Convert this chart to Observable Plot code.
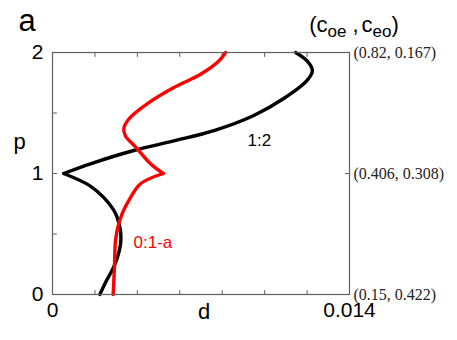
<!DOCTYPE html>
<html><head><meta charset="utf-8">
<script src="https://cdn.jsdelivr.net/npm/d3@7"></script>
<script src="https://cdn.jsdelivr.net/npm/@observablehq/plot@0.6"></script>
<style>body{margin:0;background:#fff}</style>
</head><body><div id="chart"></div>
<script>
// ---- data ----
const xTicks = [0, 0.002, 0.004, 0.006, 0.008, 0.010, 0.012, 0.014];
const xTickLabels = [0, 0.014];
const yTicks = [0, 0.5, 1, 1.5, 2];
const yTickLabels = [0, 1, 2];
const rightTicks = [0, 1, 2];
const rightLabels = ["(0.15, 0.422)", "(0.406, 0.308)", "(0.82, 0.167)"];

// curve "1:2" (black), lower branch p 0..1 and upper branch p 1..2
const blackLowerP = [0, 0.1, 0.2, 0.3, 0.42, 0.5, 0.56, 0.67, 0.8, 0.9, 1.0];
const blackLowerD = [0.00223, 0.0025, 0.00281, 0.00305, 0.00321, 0.00322, 0.00317, 0.00297, 0.00242, 0.00175, 0.00053];
const blackUpperP = [1.0, 1.08, 1.19, 1.27, 1.355, 1.48, 1.62, 1.77, 1.85, 1.93, 2.0];
const blackUpperD = [0.00053, 0.00179, 0.00383, 0.00572, 0.00761, 0.00949, 0.0109, 0.0120, 0.01225, 0.0120, 0.01146];

// curve "0:1-a" (red)
const redLowerP = [0, 0.225, 0.446, 0.556, 0.667, 0.777, 0.915, 1.0];
const redLowerD = [0.00286, 0.00292, 0.00297, 0.00308, 0.00328, 0.0036, 0.00415, 0.00522];
const redUpperP = [1.0, 1.08, 1.22, 1.31, 1.37, 1.45, 1.575, 1.71, 1.82, 1.93, 2.0];
const redUpperD = [0.00522, 0.00462, 0.00391, 0.00344, 0.00336, 0.0036, 0.00446, 0.00572, 0.00698, 0.00784, 0.00816];

const curveLabels = [
  {name: "1:2", d: 0.00919, p: 1.273, color: "#000"},
  {name: "0:1-a", d: 0.00382, p: 0.43, color: "#ff0000"}
];
const xLabel = "d";
const yLabel = "p";
const panelLabel = "a";

// ---- build tables ----
function rowsOf(ps, ds, branch) { return ps.map((p, i) => ({p, d: ds[i], branch})); }
const blackRows = [...rowsOf(blackLowerP, blackLowerD, "lo"), ...rowsOf(blackUpperP, blackUpperD, "hi")];
const redRows = [...rowsOf(redLowerP, redLowerD, "lo"), ...rowsOf(redUpperP, redUpperD, "hi")];

const tickShape = {draw(ctx, l) { ctx.moveTo(0, 0); ctx.lineTo(0, -l); }};
const frameColor = "#5f5f5f";
const tickOpts = {length: 4, anchor: "start", shape: tickShape, stroke: frameColor, strokeWidth: 1};

const chart = Plot.plot({
  width: 457, height: 340,
  marginLeft: 52, marginRight: 108, marginTop: 52, marginBottom: 46,
  x: {domain: [0, 0.014]},
  y: {domain: [0, 2]},
  style: {fontFamily: "'Liberation Sans', Arial, sans-serif", background: "white", color: "#000"},
  marks: [
    Plot.vector(xTicks, {x: d => d, frameAnchor: "bottom", rotate: 0, ...tickOpts}),
    Plot.vector(xTicks, {x: d => d, frameAnchor: "top", rotate: 180, ...tickOpts}),
    Plot.vector(yTicks, {y: d => d, frameAnchor: "left", rotate: 90, ...tickOpts}),
    Plot.vector(rightTicks, {y: d => d, frameAnchor: "right", rotate: -90, ...tickOpts}),
    Plot.axisX(xTickLabels, {tickSize: 0, tickPadding: 8, fontSize: 21, tickFormat: d => String(d), label: null}),
    Plot.axisY(yTickLabels, {tickSize: 0, tickPadding: 9, fontSize: 21, tickFormat: d => String(d), label: null}),
    Plot.text(rightTicks, {y: d => d, text: (d, i) => rightLabels[i], frameAnchor: "right", textAnchor: "start", dx: 4,
      fontFamily: "'Liberation Serif', 'Times New Roman', serif", fontSize: 16, fill: "#222"}),
    Plot.line(blackRows, {x: "d", y: "p", z: "branch", stroke: "#000", strokeWidth: 3.4, curve: "catmull-rom"}),
    Plot.line(redRows, {x: "d", y: "p", z: "branch", stroke: "#ff0000", strokeWidth: 3.4, curve: "catmull-rom"}),
    Plot.text(curveLabels, {x: "d", y: "p", text: "name", fill: "color", textAnchor: "start", fontSize: 17}),
    Plot.text([xLabel], {text: d => d, frameAnchor: "bottom", dx: 3, dy: 24, fontSize: 22}),
    Plot.text([yLabel], {text: d => d, y: () => 1.26, frameAnchor: "left", dx: -39, fontSize: 22}),
    Plot.text([panelLabel], {text: d => d, frameAnchor: "top-left", textAnchor: "start", lineAnchor: "bottom", dx: -34, dy: -22, fontSize: 31}),
    Plot.frame({stroke: frameColor, strokeWidth: 1.2})
  ]
});
document.getElementById("chart").append(chart);

// header "(c_oe , c_eo)" with subscripts
const svg = d3.select(chart);
const hdr = svg.append("text").attr("x", 354).attr("y", 32)
  .attr("font-family", "'Liberation Sans', Arial, sans-serif").attr("font-size", 22).attr("fill", "#000");
hdr.append("tspan").text("(c");
hdr.append("tspan").attr("font-size", 17).attr("dy", 5).text("oe");
hdr.append("tspan").attr("dy", -5).text(" ,");
hdr.append("tspan").attr("dx", 3).text("c");
hdr.append("tspan").attr("font-size", 17).attr("dy", 5).text("eo");
hdr.append("tspan").attr("dy", -5).text(")");
</script>
</body></html>
